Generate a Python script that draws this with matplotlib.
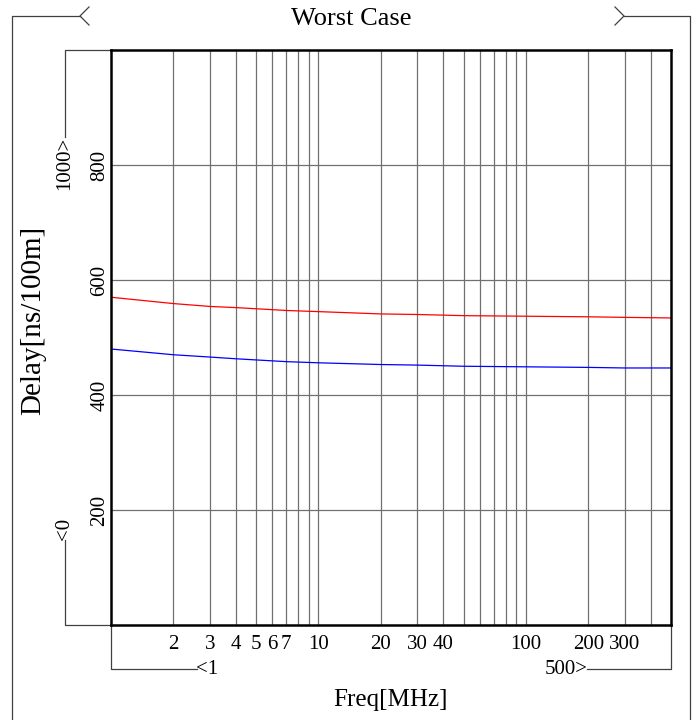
import matplotlib
matplotlib.use("Agg")
import matplotlib.pyplot as plt
from matplotlib.ticker import FixedLocator, FixedFormatter, NullLocator

# delay vs frequency
freq_mhz = [1, 2, 3, 4, 5, 7, 10, 20, 30, 50, 100, 200, 300, 500]
delay_red = [570, 559, 554, 552, 550, 547, 545, 541, 540, 538, 537, 536, 535, 534]
delay_blue = [480, 470, 466, 463, 461, 458, 456, 453, 452, 450, 449, 448, 447, 447]

x_grid = [2, 3, 4, 5, 6, 7, 8, 9, 10, 20, 30, 40, 50, 60, 70, 80, 90, 100, 200, 300, 400]
x_labels = ["2", "3", "4", "5", "6", "7", "", "", "10", "20", "30", "40", "", "", "", "", "", "100", "200", "300", ""]
y_grid = [200, 400, 600, 800]
y_labels = ["200", "400", "600", "800"]
X_MIN, X_MAX = 1, 500
Y_MIN, Y_MAX = 0, 1000

FONT = "Liberation Serif"
W, H = 700, 720

fig = plt.figure(figsize=(W / 100, H / 100), dpi=100)
ax = fig.add_axes([111 / W, 1 - 625 / H, 560 / W, 575 / H])

ax.plot(freq_mhz, delay_red, color="#ff0000", linewidth=0.9)
ax.plot(freq_mhz, delay_blue, color="#0000ff", linewidth=0.9)

ax.set_xscale("log")
ax.set_xlim(X_MIN, X_MAX)
ax.set_ylim(Y_MIN, Y_MAX)
ax.xaxis.set_major_locator(FixedLocator(x_grid))
ax.xaxis.set_major_formatter(FixedFormatter(x_labels))
ax.xaxis.set_minor_locator(NullLocator())
ax.yaxis.set_major_locator(FixedLocator(y_grid))
ax.yaxis.set_major_formatter(FixedFormatter(y_labels))
ax.tick_params(length=0, labelsize=15, pad=7)
ax.tick_params(axis="y", pad=1)
for lbl in ax.get_xticklabels() + ax.get_yticklabels():
    lbl.set_fontfamily(FONT)
for lbl in ax.get_yticklabels():
    lbl.set_rotation(90)
    lbl.set_va("center")
ax.grid(True, color="#707070", linewidth=0.9)
ax.set_axisbelow(True)
for sp in ax.spines.values():
    sp.set_linewidth(1.8)
    sp.set_color("black")

# bracket decorations drawn in pixel space
deco = fig.add_axes([0, 0, 1, 1], zorder=-1)
deco.set_xlim(0, W)
deco.set_ylim(H, 0)
deco.axis("off")
lk = dict(color="#404040", linewidth=0.9)

# outer title bracket
deco.plot([12, 12, 80], [H, 16, 16], **lk)
deco.plot([89, 80, 89], [7, 16, 25], **lk)
deco.plot([690, 690, 624], [H, 16, 16], **lk)
deco.plot([615, 624, 615], [7, 16, 25], **lk)
deco.text(351, 19, "Worst Case", family=FONT, fontsize=19, ha="center", va="center")

# x range bracket
deco.plot([111, 111, 197], [625, 669, 669], **lk)
deco.plot([671, 671, 587], [625, 669, 669], **lk)
deco.text(196, 669, "<1", family=FONT, fontsize=15, ha="left", va="center")
deco.text(588, 669, "500>", family=FONT, fontsize=15, ha="right", va="center")

# y range bracket
deco.plot([111, 65, 65], [50, 50, 137], **lk)
deco.plot([111, 65, 65], [625, 625, 540], **lk)
deco.text(65, 137, "1000>", family=FONT, fontsize=15, rotation=90, ha="center", va="top")
deco.text(65, 540, "<0", family=FONT, fontsize=15, rotation=90, ha="center", va="bottom")

deco.text(390, 700, "Freq[MHz]", family=FONT, fontsize=18, ha="center", va="center")
deco.text(33, 320, "Delay[ns/100m]", family=FONT, fontsize=21, rotation=90, ha="center", va="center")

fig.savefig("out.png", dpi=100)
